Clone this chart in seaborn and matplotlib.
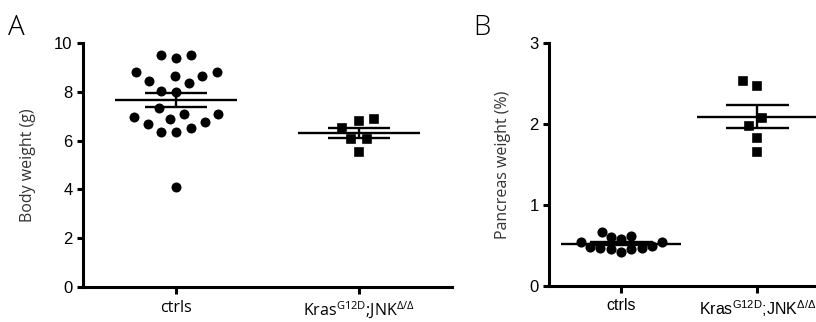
import numpy as np
import pandas as pd
import matplotlib
matplotlib.use("Agg")
import matplotlib.pyplot as plt
import seaborn as sns

# ---- data ----
groups = ["ctrls", "kras"]
body_ctrls = [9.5, 9.4, 9.5, 8.8, 8.65, 8.65, 8.8, 8.45, 8.35, 8.05, 8.0,
              7.35, 7.1, 7.1, 6.9, 6.95, 6.7, 6.75, 6.35, 6.35, 6.5, 4.1]
body_kras = [6.8, 6.9, 6.5, 6.05, 6.05, 5.55]
panc_ctrls = [0.50, 0.47, 0.60, 0.67, 0.47, 0.54, 0.62, 0.42, 0.54, 0.46,
              0.58, 0.46, 0.48]
panc_kras = [2.47, 2.53, 2.07, 1.98, 1.83, 1.65]

ticklabels = ["ctrls", r"Kras$^{G12D}$;JNK$^{Δ/Δ}$"]
yticks_A = [0, 2, 4, 6, 8, 10]
yticks_B = [0, 1, 2, 3]
ylabel_A = "Body weight (g)"
ylabel_B = "Pancreas weight (%)"

sns.set_theme(style="ticks")
plt.rcParams["mathtext.default"] = "regular"
plt.rcParams["font.family"] = ["Liberation Sans", "DejaVu Sans"]

W, H = 816, 322
fig = plt.figure(figsize=(W / 100, H / 100), dpi=100)
axA = fig.add_axes([83 / W, 1 - 287 / H, 369 / W, 244 / H])
axB = fig.add_axes([549 / W, 1 - 286 / H, 267 / W, 243 / H])


def panel(ax, ctrl, kras, yticks, ylabel, mean_hw, sem_hw, xlim, xfont,
          msize, gap_c, gap_k):
    df_c = pd.DataFrame({"group": "ctrls", "value": ctrl})
    df_k = pd.DataFrame({"group": "kras", "value": kras})
    sns.swarmplot(data=df_c, x="group", y="value", order=groups, ax=ax,
                  color="black", marker="o", size=msize + gap_c,
                  linewidth=gap_c, edgecolor="white", zorder=2)
    sns.swarmplot(data=df_k, x="group", y="value", order=groups, ax=ax,
                  color="black", marker="s", size=msize * 0.95 + gap_k,
                  linewidth=gap_k, edgecolor="white", zorder=2)
    for i, vals in enumerate([ctrl, kras]):
        v = np.asarray(vals, dtype=float)
        m = v.mean()
        se = v.std(ddof=1) / np.sqrt(len(v))
        ax.hlines(m, i - mean_hw, i + mean_hw, color="black", lw=1.7, zorder=3, clip_on=False)
        ax.hlines([m - se, m + se], i - sem_hw, i + sem_hw, color="black", lw=1.7, zorder=3, clip_on=False)
        ax.vlines(i, m - se, m + se, color="black", lw=1.7, zorder=3, clip_on=False)
    ax.set_xlim(*xlim)
    ax.set_ylim(yticks[0], yticks[-1])
    ax.set_yticks(yticks)
    ax.set_yticklabels([str(t) for t in yticks], fontsize=12, family="Liberation Sans")
    ax.set_xticks([0, 1])
    ax.set_xticklabels(ticklabels, fontsize=11.5, family=xfont)
    ax.set_xlabel("")
    ax.set_ylabel(ylabel, fontsize=11.5, family="Open Sans", color="#333333", labelpad=13)
    for s in ["top", "right"]:
        ax.spines[s].set_visible(False)
    for s in ["left", "bottom"]:
        ax.spines[s].set_linewidth(2.2)
        ax.spines[s].set_color("black")
    ax.tick_params(axis="y", length=4.5, width=2.2, pad=3, colors="black")
    ax.tick_params(axis="x", length=5, width=2.2, pad=4, colors="black")
    ax.set_facecolor("white")


panel(axA, body_ctrls, body_kras, yticks_A, ylabel_A, 0.335, 0.17,
      (-0.508, 1.508), "Open Sans", 7.2, 1.7, 1.7)
panel(axB, panc_ctrls, panc_kras, yticks_B, ylabel_B, 0.44, 0.23,
      (-0.53, 1.43), "Liberation Sans", 7.3, 0.0, 1.7)

fig.text(8 / W, 1 - 35 / H, "A", fontsize=20, family="Open Sans",
         fontweight="light", va="baseline", ha="left", color="black")
fig.text(473 / W, 1 - 35 / H, "B", fontsize=20, family="Open Sans",
         fontweight="light", va="baseline", ha="left", color="black")

fig.savefig("out.png", dpi=100, facecolor="white")
